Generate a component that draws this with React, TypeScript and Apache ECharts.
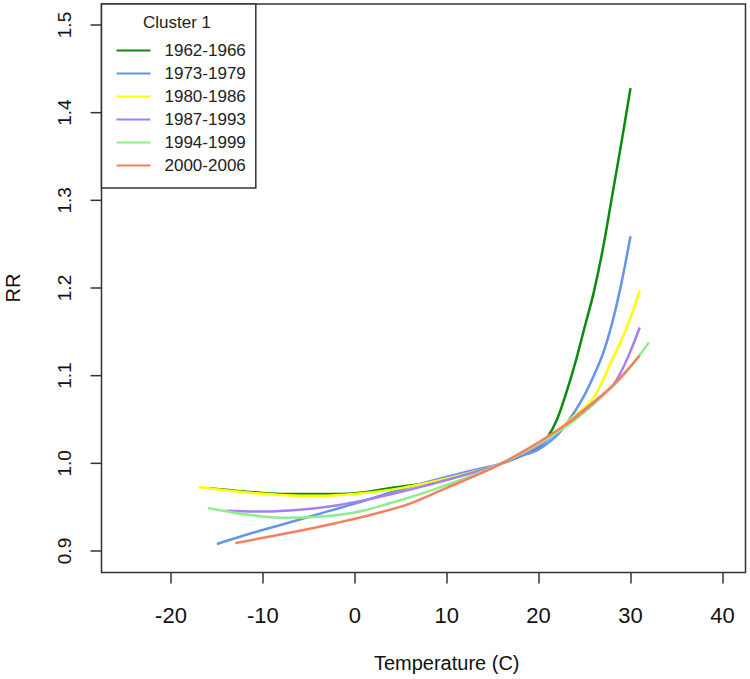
import React, { useEffect, useRef } from "react";
import * as echarts from "echarts";

// Temperatures (C) and relative risks
const seriesNames = ["1962-1966", "1973-1979", "1980-1986", "1987-1993", "1994-1999", "2000-2006"];
const seriesColors = ["#0b8a0b", "#6495ED", "#FFFF00", "#A77EF5", "#8EEE8E", "#F67F62"];

const temp1962 = [-16, -12, -8, -4, 0, 4, 8, 12, 16, 20, 21, 22, 23, 24, 25, 26, 27, 28, 29, 30];
const rr1962 = [0.972, 0.968, 0.965, 0.965, 0.966, 0.972, 0.978, 0.988, 1.0, 1.018, 1.03, 1.05, 1.08, 1.115, 1.155, 1.195, 1.245, 1.305, 1.365, 1.428];

const temp1973 = [-15, -12, -8, -4, 0, 4, 8, 12, 16, 18, 20, 22, 23, 24, 25, 26, 27, 28, 29, 30];
const rr1973 = [0.908, 0.918, 0.93, 0.942, 0.954, 0.967, 0.979, 0.99, 1.0, 1.008, 1.016, 1.032, 1.045, 1.06, 1.078, 1.1, 1.125, 1.16, 1.205, 1.259];

const temp1980 = [-17, -12, -8, -4, 0, 4, 8, 12, 16, 20, 22, 24, 26, 28, 29, 30, 31];
const rr1980 = [0.973, 0.967, 0.964, 0.963, 0.965, 0.97, 0.978, 0.988, 1.0, 1.022, 1.037, 1.055, 1.075, 1.118, 1.14, 1.166, 1.197];

const temp1987 = [-14, -10, -6, -2, 2, 6, 10, 14, 16, 20, 22, 24, 26, 28, 29, 30, 31];
const rr1987 = [0.946, 0.945, 0.947, 0.952, 0.96, 0.97, 0.981, 0.993, 1.0, 1.02, 1.036, 1.053, 1.07, 1.088, 1.105, 1.128, 1.155];

const temp1994 = [-16, -12, -8, -4, 0, 4, 8, 12, 16, 20, 24, 28, 30, 32];
const rr1994 = [0.949, 0.942, 0.938, 0.939, 0.944, 0.955, 0.968, 0.983, 1.0, 1.022, 1.05, 1.087, 1.11, 1.138];

const temp2000 = [-13, -10, -6, -2, 2, 6, 10, 14, 16, 20, 24, 28, 31];
const rr2000 = [0.909, 0.915, 0.923, 0.932, 0.942, 0.954, 0.972, 0.99, 1.0, 1.024, 1.052, 1.088, 1.123];

// Axis tick ranges
const xMin = -20;
const xMax = 40;
const xStep = 10;
const yMin = 0.9;
const yMax = 1.5;
const yStep = 0.1;
const yTickValues = [0.9, 1.0, 1.1, 1.2, 1.3, 1.4, 1.5];

const allTemps = [temp1962, temp1973, temp1980, temp1987, temp1994, temp2000];
const allRR = [rr1962, rr1973, rr1980, rr1987, rr1994, rr2000];

const FONT = "'Liberation Sans', Arial, Helvetica, sans-serif";
const Y_OFFSET = 69.5;
const TICK_LEN = 11;

export default function App() {
  const ref = useRef<HTMLDivElement>(null);
  useEffect(() => {
    if (!ref.current) return;
    const chart = echarts.init(ref.current, null, { renderer: "svg" });
    const series: any[] = seriesNames.map((name, i) => ({
      name,
      type: "line",
      data: allTemps[i].map((t, j) => [t, allRR[i][j]]),
      showSymbol: false,
      symbol: "none",
      smooth: 0.35,
      clip: false,
      lineStyle: { color: seriesColors[i], width: 2.5 },
      itemStyle: { color: seriesColors[i] },
      emphasis: { disabled: true },
    }));
    const boxRect = {
      type: "rect",
      z: 1,
      silent: true,
      shape: { x: 101.5, y: 4, width: 644, height: 568.5 },
      style: { fill: "none", stroke: "#333", lineWidth: 1.5 },
    };
    chart.setOption({
      animation: false,
      backgroundColor: "#ffffff",
      textStyle: { fontFamily: FONT },
      title: {
        text: "Cluster 1",
        left: 138,
        top: 9,
        z: 10,
        textStyle: { fontSize: 17, fontWeight: "normal", color: "#222", fontFamily: FONT },
      },
      graphic: [boxRect],
      legend: {
        orient: "vertical",
        left: 101.5,
        top: 4,
        z: 8,
        padding: [36, 10, 12, 15],
        backgroundColor: "#ffffff",
        borderColor: "#333",
        borderWidth: 1.5,
        borderRadius: 0,
        icon: "rect",
        itemWidth: 34,
        itemHeight: 2,
        itemGap: 2,
        textStyle: { fontSize: 17, color: "#222", lineHeight: 21, padding: [0, 0, 0, 9], fontFamily: FONT },
        data: seriesNames,
      },
      grid: {
        left: 171,
        right: 27.6,
        top: 25,
        bottom: 128,
        show: false,
        containLabel: false,
        outerBoundsMode: "none",
      },
      xAxis: {
        type: "value",
        min: xMin,
        max: xMax,
        interval: xStep,
        offset: 21.5,
        name: "Temperature (C)",
        nameLocation: "middle",
        nameGap: 80,
        nameTextStyle: { fontSize: 20, color: "#111", fontFamily: FONT },
        axisLine: { show: false, onZero: false },
        axisTick: { show: true, inside: false, length: TICK_LEN, lineStyle: { color: "#333", width: 1.5 } },
        axisLabel: { fontSize: 22, color: "#111", margin: 32, fontFamily: FONT },
        splitLine: { show: false },
      },
      yAxis: {
        type: "value",
        position: "left",
        min: yMin,
        max: yMax,
        interval: yStep,
        offset: Y_OFFSET,
        name: "RR",
        nameLocation: "middle",
        nameGap: 79,
        nameRotate: 90,
        nameTextStyle: { fontSize: 20, color: "#111", fontFamily: FONT },
        axisLine: { show: false, onZero: false },
        axisTick: { show: false },
        axisLabel: {
          rotate: 90,
          fontSize: 19,
          color: "#111",
          margin: 28,
          fontFamily: FONT,
          formatter: (v: number) => v.toFixed(1),
        },
        splitLine: { show: false },
      },
      series,
    });
    // y-axis tick marks, placed through the chart's own y scale
    const tickLines = yTickValues.map((v) => {
      const p = chart.convertToPixel({ gridIndex: 0 }, [xMin, v]) as number[];
      const x0 = p[0] - Y_OFFSET;
      return {
        type: "line",
        z: 100,
        silent: true,
        shape: { x1: x0 - TICK_LEN, y1: p[1], x2: x0, y2: p[1] },
        style: { stroke: "#333", lineWidth: 1.5 },
      };
    });
    chart.setOption({ graphic: [boxRect, ...tickLines] });
    return () => chart.dispose();
  }, []);
  return (
    <div
      ref={ref}
      style={{ position: "absolute", left: 0, top: 0, width: 750, height: 679 }}
    />
  );
}
